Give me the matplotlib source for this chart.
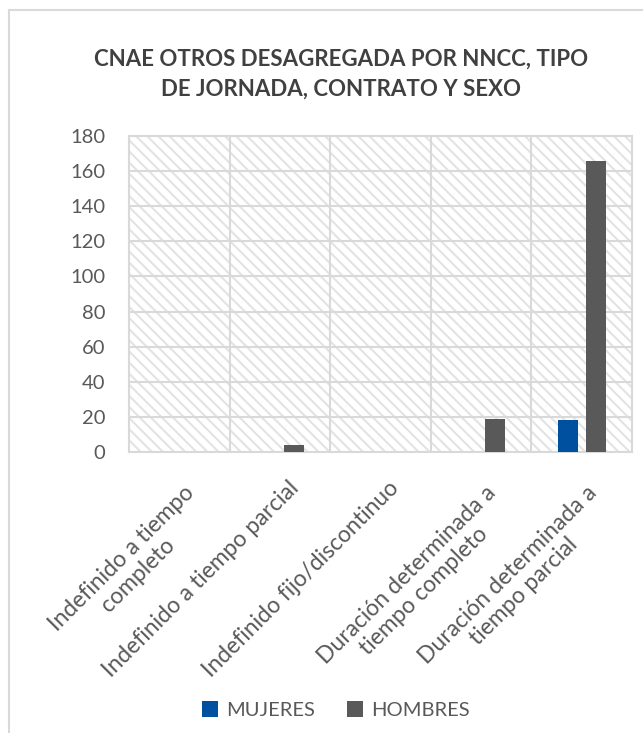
import matplotlib
matplotlib.use("Agg")
import matplotlib.pyplot as plt
from matplotlib.patches import Rectangle, Patch
from matplotlib.transforms import ScaledTranslation
import numpy as np

# Data
categories = [
    "Indefinido a tiempo\ncompleto",
    "Indefinido a tiempo parcial",
    "Indefinido fijo/discontinuo",
    "Duración determinada a\ntiempo completo",
    "Duración determinada a\ntiempo parcial",
]
mujeres = [0, 0, 0, 0, 18]
hombres = [0, 4, 0, 19, 166]
yticks = [0, 20, 40, 60, 80, 100, 120, 140, 160, 180]
series_names = ["MUJERES", "HOMBRES"]
title = "CNAE OTROS DESAGREGADA POR NNCC, TIPO\nDE JORNADA, CONTRATO Y SEXO"

W, H = 643, 733
plt.rcParams["font.family"] = ["Lato", "DejaVu Sans"]
plt.rcParams["hatch.linewidth"] = 1.5

BLUE = "#0050a0"
GREY = "#595959"
GRID = "#d9d9d9"
TEXT = "#595959"

fig = plt.figure(figsize=(W / 100, H / 100), dpi=100)

# outer chart border (left/top visible)
fig.add_artist(Rectangle((9 / W, -0.1), 1.2, 1 - 10 / H + 0.1,
                         transform=fig.transFigure, fill=False,
                         edgecolor=GRID, lw=1.5))

ax = fig.add_axes([129 / W, 1 - 452 / H, (632 - 129) / W, (452 - 136) / H])
x = np.arange(len(categories))
ax.set_xlim(-0.5, len(categories) - 0.5)
ax.set_ylim(0, 180)

# hatched plot-area background
ax.add_patch(Rectangle((0, 0), 1, 1, transform=ax.transAxes,
                       facecolor="white", edgecolor="#e3e3e3", hatch="\\\\\\",
                       linewidth=0, zorder=0))

ax.set_yticks(yticks)
ax.yaxis.grid(True, color=GRID, lw=1.5, zorder=1)
ax.set_axisbelow(True)
for b in np.arange(0.5, len(categories) - 0.5, 1):
    ax.axvline(b, color=GRID, lw=1.5, zorder=1)
for s in ax.spines.values():
    s.set_color(GRID)
    s.set_linewidth(1.5)

bw = 0.2
ax.bar(x - 0.14, mujeres, bw, color=BLUE, zorder=3, label=series_names[0])
ax.bar(x + 0.14, hombres, bw, color=GREY, zorder=3, label=series_names[1])

ax.tick_params(axis="y", length=0, labelsize=14.5, labelcolor=TEXT, pad=17)
ax.tick_params(axis="x", length=0, labelsize=16.5, labelcolor=TEXT, pad=18)
ax.set_xticks(x)
ax.set_xticklabels(categories, rotation=45, ha="right", va="top",
                   rotation_mode="anchor", multialignment="center",
                   linespacing=1.15)
for lab, cat in zip(ax.get_xticklabels(), categories):
    if "\n" in cat:
        dx, dy = 4, -5
    else:
        dx, dy = 8, 0
    lab.set_transform(lab.get_transform() +
                      ScaledTranslation(dx / 100, dy / 100, fig.dpi_scale_trans))

fig.text(341 / W, 1 - 74 / H, title, ha="center", va="center",
         fontsize=16, fontweight="bold", color="#404040", linespacing=1.55)

handles = [Patch(facecolor=BLUE), Patch(facecolor=GREY)]
leg = fig.legend(handles, series_names, loc="center",
                 bbox_to_anchor=(336 / W, 1 - 710 / H), ncol=2, frameon=False,
                 fontsize=14.5, handlelength=0.8, handleheight=0.8,
                 handletextpad=0.4, columnspacing=1.6)
for t in leg.get_texts():
    t.set_color(TEXT)

fig.savefig("out.png", dpi=100)
